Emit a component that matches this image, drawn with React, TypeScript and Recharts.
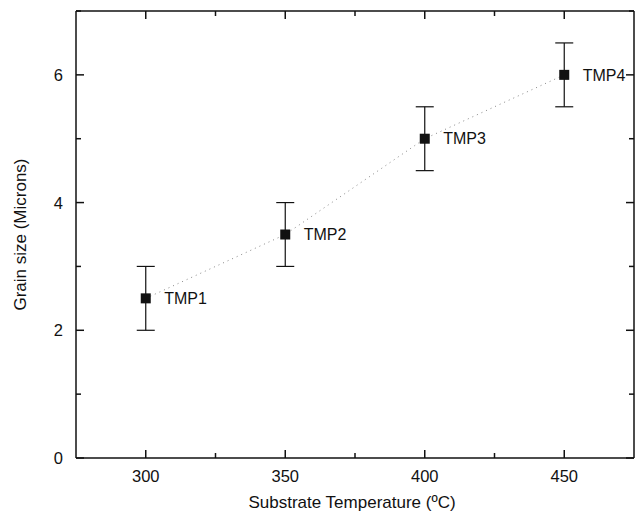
import React from "react";
import {
  ScatterChart,
  Scatter,
  XAxis,
  YAxis,
  ErrorBar,
  LabelList,
  Label,
} from "recharts";

const samples = ["TMP1", "TMP2", "TMP3", "TMP4"];
const temperatures = [300, 350, 400, 450];
const grainSizes = [2.5, 3.5, 5.0, 6.0];
const grainErrors = [0.5, 0.5, 0.5, 0.5];

const xTicks = [300, 325, 350, 375, 400, 425, 450];
const yTicks = [0, 1, 2, 3, 4, 5, 6, 7];

const data = samples.map((name, i) => ({
  name,
  temp: temperatures[i],
  size: grainSizes[i],
  err: grainErrors[i],
}));

const FONT = '"Liberation Sans", Arial, Helvetica, sans-serif';
const INK = "#111";

// ticks point inward on every side of the box
const BottomTick = (props: any) => {
  const { x, y, payload } = props;
  const major = payload.value % 50 === 0;
  return (
    <g>
      <line x1={x} y1={y} x2={x} y2={y - (major ? 8 : 5)} stroke={INK} strokeWidth={1.5} />
      {major && (
        <text x={x} y={y + 24} textAnchor="middle" fontSize={16.5} fontFamily={FONT} fill={INK}>
          {payload.value}
        </text>
      )}
    </g>
  );
};

const TopTick = (props: any) => {
  const { x, y, payload } = props;
  const major = payload.value % 50 === 0;
  return <line x1={x} y1={y} x2={x} y2={y + (major ? 8 : 5)} stroke={INK} strokeWidth={1.5} />;
};

const LeftTick = (props: any) => {
  const { x, y, payload } = props;
  const major = payload.value % 2 === 0;
  return (
    <g>
      <line x1={x} y1={y} x2={x + (major ? 8 : 5)} y2={y} stroke={INK} strokeWidth={1.5} />
      {major && (
        <text x={x - 13} y={y + 6} textAnchor="end" fontSize={16.5} fontFamily={FONT} fill={INK}>
          {payload.value}
        </text>
      )}
    </g>
  );
};

const RightTick = (props: any) => {
  const { x, y, payload } = props;
  const major = payload.value % 2 === 0;
  return <line x1={x} y1={y} x2={x - (major ? 8 : 5)} y2={y} stroke={INK} strokeWidth={1.5} />;
};

const SquareDot = (props: any) => {
  const { cx, cy } = props;
  return <rect x={cx - 5} y={cy - 5} width={10} height={10} fill={INK} />;
};

const NoDot = () => <g />;

const axisLine = { stroke: INK, strokeWidth: 1.5 };

export default function App() {
  return (
    <div style={{ position: "absolute", left: 0, top: 0, background: "#fff" }}>
      <ScatterChart
        width={637}
        height={515}
        margin={{ top: 10, right: 2, left: 0, bottom: 0 }}
      >
        <XAxis
          dataKey="temp"
          type="number"
          domain={[275, 475]}
          ticks={xTicks}
          interval={0}
          height={57}
          tickSize={0}
          tickMargin={0}
          tickLine={false}
          tick={<BottomTick />}
          axisLine={axisLine}
        >
          <Label
            content={(p: any) => {
              const vb = p.viewBox;
              return (
                <text
                  x={vb.x + vb.width / 2 - 3}
                  y={vb.y + 50}
                  textAnchor="middle"
                  fontSize={17}
                  fontFamily={FONT}
                  fill={INK}
                >
                  Substrate Temperature (ºC)
                </text>
              );
            }}
          />
        </XAxis>
        <XAxis
          xAxisId="top"
          orientation="top"
          dataKey="temp"
          type="number"
          domain={[275, 475]}
          ticks={xTicks}
          interval={0}
          height={1}
          tickSize={0}
          tickMargin={0}
          tickLine={false}
          tick={<TopTick />}
          axisLine={axisLine}
        />
        <YAxis
          dataKey="size"
          type="number"
          domain={[0, 7]}
          ticks={yTicks}
          interval={0}
          width={76}
          tickSize={0}
          tickMargin={0}
          tickLine={false}
          tick={<LeftTick />}
          axisLine={axisLine}
        >
          <Label
            content={(p: any) => {
              const vb = p.viewBox;
              const cx = vb.x + 20;
              const cy = vb.y + vb.height / 2;
              return (
                <text
                  x={cx}
                  y={cy}
                  transform={`rotate(-90 ${cx} ${cy})`}
                  textAnchor="middle"
                  dominantBaseline="central"
                  fontSize={17}
                  fontFamily={FONT}
                  fill={INK}
                >
                  Grain size (Microns)
                </text>
              );
            }}
          />
        </YAxis>
        <YAxis
          yAxisId="right"
          orientation="right"
          dataKey="size"
          type="number"
          domain={[0, 7]}
          ticks={yTicks}
          interval={0}
          width={1}
          tickSize={0}
          tickMargin={0}
          tickLine={false}
          tick={<RightTick />}
          axisLine={axisLine}
        />
        {/* invisible series so the mirror axes (top / right) get drawn */}
        <Scatter
          data={data}
          xAxisId="top"
          yAxisId="right"
          isAnimationActive={false}
          shape={<NoDot />}
          legendType="none"
        />
        <Scatter
          data={data}
          isAnimationActive={false}
          fill={INK}
          shape={<SquareDot />}
          line={{ stroke: "#888", strokeWidth: 1, strokeDasharray: "1 4" }}
        >
          <ErrorBar dataKey="err" direction="y" width={9} stroke={INK} strokeWidth={1.2} />
          <LabelList
            dataKey="name"
            position="right"
            offset={14}
            fill={INK}
            fontSize={16}
            fontFamily={FONT}
          />
        </Scatter>
      </ScatterChart>
    </div>
  );
}
